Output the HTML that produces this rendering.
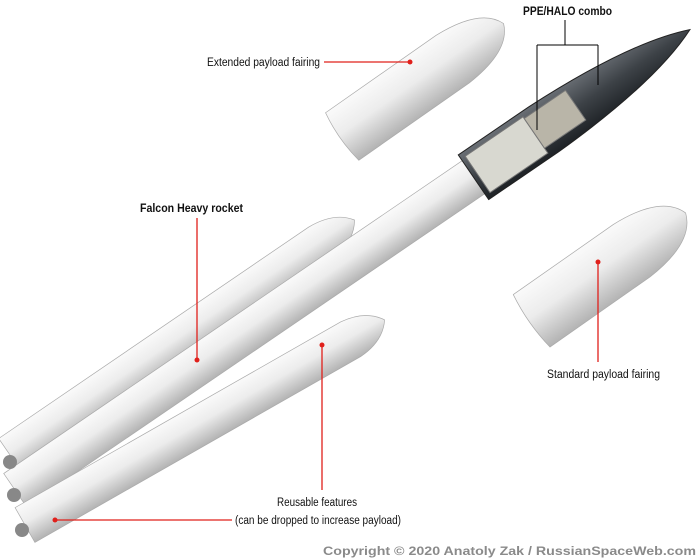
<!DOCTYPE html>
<html><head><meta charset="utf-8"><style>
html,body{margin:0;padding:0;background:#fff;}
svg{display:block;font-family:"Liberation Sans",sans-serif;}
</style></head><body>
<svg width="700" height="560" viewBox="0 0 700 560" xmlns="http://www.w3.org/2000/svg">
<defs>
<linearGradient id="g" x1="0" y1="0" x2="0" y2="1">
<stop offset="0" stop-color="#fafafa"/><stop offset="0.45" stop-color="#ececec"/><stop offset="1" stop-color="#b3b3b3"/>
</linearGradient>
<linearGradient id="d" x1="0" y1="0" x2="0" y2="1">
<stop offset="0" stop-color="#6a6f75"/><stop offset="0.5" stop-color="#3d4247"/><stop offset="1" stop-color="#1e2226"/>
</linearGradient>
</defs>
<!-- top booster -->
<g transform="translate(10,455) rotate(-34.3)">
<path d="M0,-20 L375,-20 Q405,-18 417,0 Q405,18 375,20 L0,20 Z" fill="url(#g)" stroke="#aaa" stroke-width="0.7"/>
</g>
<!-- core -->
<g transform="translate(15,490) rotate(-34.3)">
<rect x="0" y="-20" width="560" height="40" fill="url(#g)" stroke="#aaa" stroke-width="0.7"/>
<path d="M555,-27 L640,-27 Q760,-24 817,0 Q760,24 640,27 L555,27 Z" fill="url(#d)" stroke="#222" stroke-width="1"/>
<rect x="560" y="-22" width="70" height="44" fill="#d8d8d0" stroke="#777"/>
<rect x="630" y="-20" width="50" height="36" fill="#b9b5a8" stroke="#777"/>
</g>
<!-- bottom booster -->
<g transform="translate(25,525) rotate(-29.7)">
<path d="M0,-20 L375,-20 Q402,-18 414,0 Q402,18 375,20 L0,20 Z" fill="url(#g)" stroke="#aaa" stroke-width="0.7"/>
</g>
<!-- engines -->
<circle cx="10" cy="462" r="7" fill="#888"/><circle cx="14" cy="495" r="7" fill="#888"/><circle cx="22" cy="530" r="7" fill="#888"/>
<!-- extended fairing -->
<g transform="translate(420,82) rotate(-35)">
<path d="M-95,-29 L40,-29 Q92,-26 102,0 Q92,26 40,29 L-95,29 Q-100,0 -95,-29 Z" fill="url(#g)" stroke="#aaa" stroke-width="0.7"/>
</g>
<!-- standard fairing -->
<g transform="translate(607,268) rotate(-35)">
<path d="M-92,-32 L30,-32 Q86,-29 96,0 Q86,29 30,32 L-92,32 Q-97,0 -92,-32 Z" fill="url(#g)" stroke="#aaa" stroke-width="0.7"/>
</g>
<!-- labels & lines -->
<g stroke="#e0201b" stroke-width="1.3" fill="none">
<line x1="324" y1="62" x2="410" y2="62"/>
<line x1="197" y1="218" x2="197" y2="360"/>
<line x1="598" y1="262" x2="598" y2="362"/>
<line x1="322" y1="345" x2="322" y2="490"/>
<line x1="55" y1="520" x2="232" y2="520"/>
</g>
<g fill="#e0201b"><circle cx="410" cy="62" r="2.5"/><circle cx="197" cy="360" r="2.5"/><circle cx="598" cy="262" r="2.5"/><circle cx="322" cy="345" r="2.5"/><circle cx="55" cy="520" r="2.5"/></g>
<g stroke="#000" stroke-width="1" fill="none">
<path d="M565,20 V45 M537,45 H598 M537,45 V130 M598,45 V85"/>
</g>
<g font-size="11.5" fill="#111">
<text x="207" y="66" textLength="113" lengthAdjust="spacingAndGlyphs">Extended payload fairing</text>
<text x="523" y="15" font-weight="bold" textLength="89" lengthAdjust="spacingAndGlyphs">PPE/HALO combo</text>
<text x="140" y="212" font-weight="bold" textLength="103" lengthAdjust="spacingAndGlyphs">Falcon Heavy rocket</text>
<text x="547" y="378" textLength="113" lengthAdjust="spacingAndGlyphs">Standard payload fairing</text>
<text x="277" y="506" textLength="80" lengthAdjust="spacingAndGlyphs">Reusable features</text>
<text x="235" y="524" textLength="166" lengthAdjust="spacingAndGlyphs">(can be dropped to increase payload)</text>
</g>
<text x="323" y="555" font-size="12" font-weight="bold" fill="#8a8a8a" textLength="373" lengthAdjust="spacingAndGlyphs">Copyright © 2020 Anatoly Zak / RussianSpaceWeb.com</text>
</svg>
</body></html>
